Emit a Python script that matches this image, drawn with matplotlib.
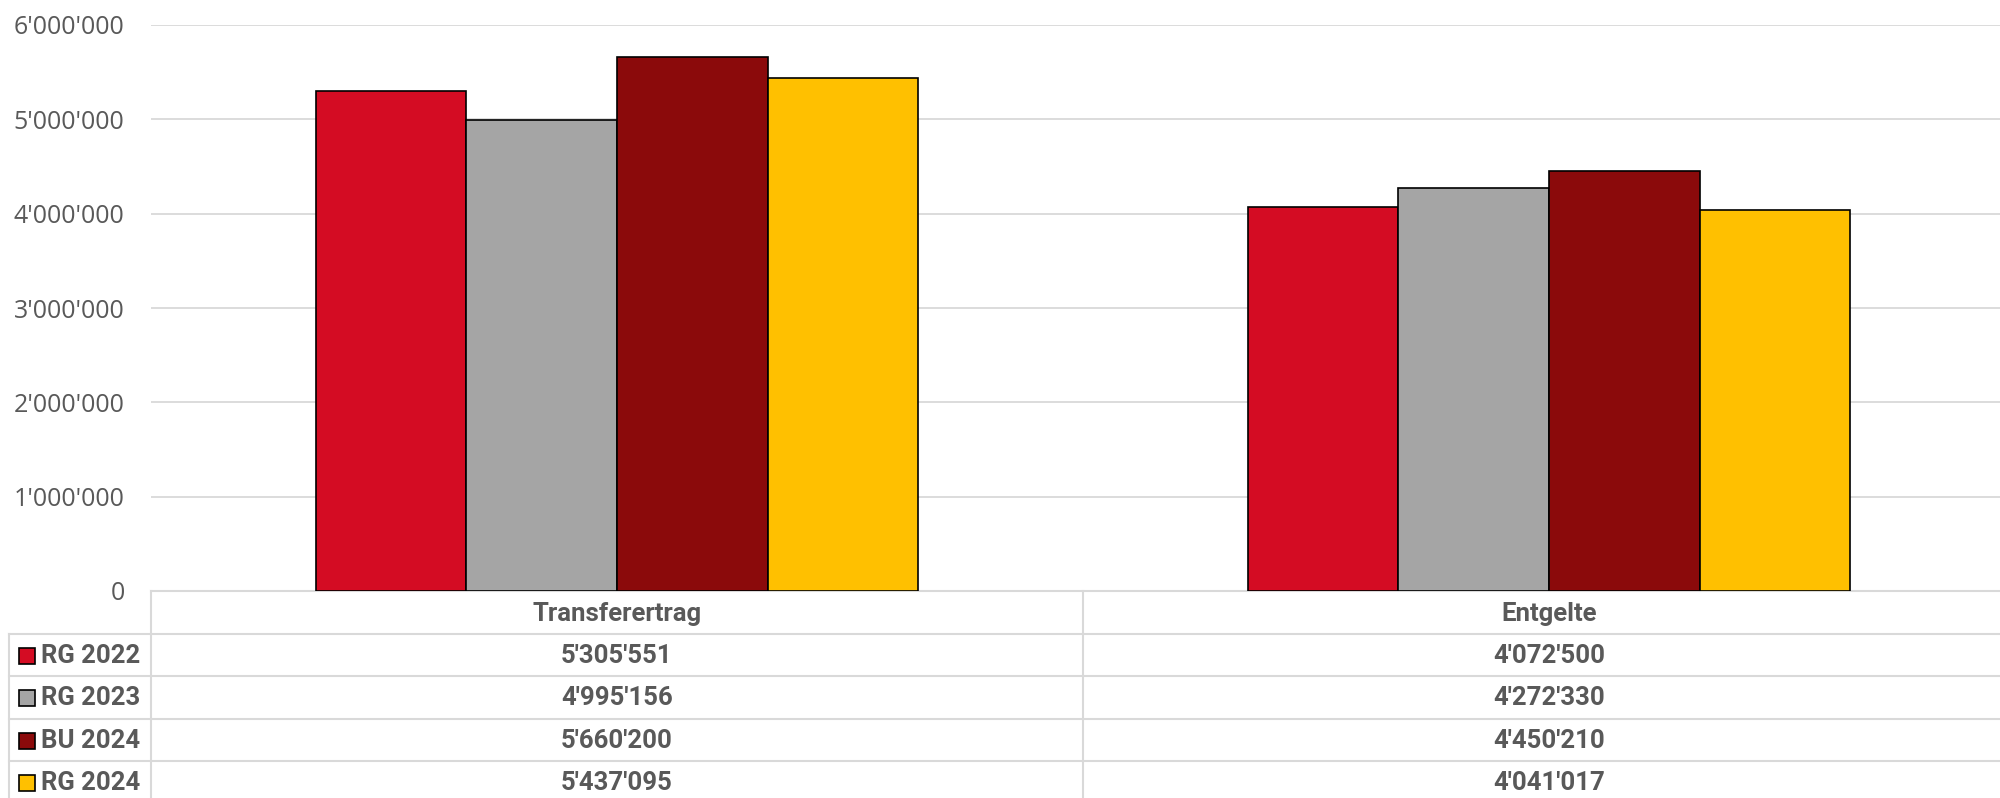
import matplotlib.pyplot as plt
from matplotlib.ticker import FuncFormatter
from matplotlib.transforms import blended_transform_factory
from matplotlib.patches import Rectangle
import numpy as np

# data
categories = ["Transferertrag", "Entgelte"]
series = ["RG 2022", "RG 2023", "BU 2024", "RG 2024"]
rg2022 = [5305551, 4072500]
rg2023 = [4995156, 4272330]
bu2024 = [5660200, 4450210]
rg2024 = [5437095, 4041017]
values = [rg2022, rg2023, bu2024, rg2024]
colors = ["#D40C23", "#A5A5A5", "#8B0A0B", "#FFC000"]

TXT = "#595959"
GRID = "#D9D9D9"
TABLE_FONT = ["Roboto", "DejaVu Sans"]
FS = 18.5


def swiss(v):
    return f"{int(round(v)):,}".replace(",", "'")


W, H = 2000, 798
fig = plt.figure(figsize=(W / 100, H / 100), dpi=100)

# table layer in pixel coordinates (y downwards)
ax_t = fig.add_axes([0, 0, 1, 1])
ax_t.set_xlim(0, W)
ax_t.set_ylim(H, 0)
ax_t.axis("off")

# chart area
top, zero = 25, 591
ax = fig.add_axes([151 / W, (H - zero) / H, 1864 / W, (zero - top) / H])
ax.patch.set_visible(False)
x = np.arange(len(categories))
bw = 0.1615
for i, (vals, c) in enumerate(zip(values, colors)):
    ax.bar(x + (i - 1.5) * bw, vals, bw, color=c, edgecolor="black",
           linewidth=1.2, zorder=3)
ax.set_xlim(-0.5, len(categories) - 0.5)
ax.set_ylim(0, 6000000)
ax.set_yticks(range(0, 6000001, 1000000))
ax.yaxis.set_major_formatter(FuncFormatter(lambda v, p: swiss(v)))
ax.grid(axis="y", color=GRID, linewidth=1.3)
ax.set_axisbelow(True)
for s in ax.spines.values():
    s.set_visible(False)
ax.set_xticks([])
ax.tick_params(axis="y", length=0, pad=19, labelsize=18, labelcolor=TXT)
for lab in ax.get_yticklabels():
    lab.set_family(["Open Sans", "DejaVu Sans"])

# data table below the chart
trans = blended_transform_factory(ax.transData, ax_t.transData)
row_h = 42.3
head_bot = zero + 43
rows_y = [head_bot + k * row_h for k in range(len(series) + 1)]
lw = 1.5

ax_t.plot([-0.5, len(categories) + 0.5], [zero, zero], color=GRID, lw=lw,
          transform=trans)
for yy in rows_y[:-1]:
    ax_t.plot([9, W], [yy, yy], color=GRID, lw=lw)
ax_t.plot([9, 9], [head_bot, H], color=GRID, lw=lw)
for b in np.arange(len(categories)) - 0.5:
    ax_t.plot([b, b], [zero, H], color=GRID, lw=lw, transform=trans)

for j, cat in enumerate(categories):
    ax_t.text(j, (zero + head_bot) / 2 + 1, cat, transform=trans, ha="center",
              va="center", fontsize=FS, fontweight="bold", color=TXT,
              family=TABLE_FONT)
    for i, vals in enumerate(values):
        yc = rows_y[i] + row_h / 2 + 1
        ax_t.text(j, yc, swiss(vals[j]), transform=trans, ha="center",
                  va="center", fontsize=FS, fontweight="bold", color=TXT,
                  family=TABLE_FONT)

for i, (name, c) in enumerate(zip(series, colors)):
    yc = rows_y[i] + row_h / 2 + 1
    ax_t.add_patch(Rectangle((19, yc - 8), 16, 16, facecolor=c,
                             edgecolor="black", lw=1.2))
    ax_t.text(41, yc, name, ha="left", va="center", fontsize=FS,
              fontweight="bold", color=TXT, family=TABLE_FONT)

fig.savefig("out.png", dpi=100)
